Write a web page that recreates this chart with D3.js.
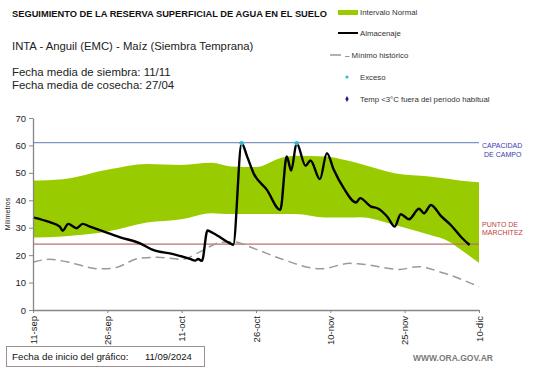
<!DOCTYPE html>
<html>
<head>
<meta charset="utf-8">
<script src="https://cdn.jsdelivr.net/npm/d3@7"></script>
<style>
  body { margin: 0; background: #fff; }
  svg { display: block; font-family: Arial, "Liberation Sans", sans-serif; }
</style>
</head>
<body>
<svg id="chart" width="541" height="368"></svg>
<script>
// x values are days since 11-sep-2024
const xTickDays = [0, 15, 30, 45, 60, 75, 90];
const xTickLabels = ["11-sep", "26-sep", "11-oct", "26-oct", "10-nov", "25-nov", "10-dic"];
const yTicks = [0, 10, 20, 30, 40, 50, 60, 70];

// Intervalo normal (banda verde)
const bandDays = [0, 6, 15, 23, 30, 36, 40, 45, 50, 53, 59, 63, 66, 73, 80, 84, 86, 90];
const bandUpper = [47.2, 47.7, 51.1, 53.2, 52.9, 53.7, 52.3, 52.1, 55.4, 56.2, 56, 54.7, 53.3, 49.9, 48.7, 47.8, 47.2, 46.6];
const bandLower = [26.4, 26.8, 28.6, 31.9, 33.1, 35.3, 35, 35, 35, 35, 33.7, 33.7, 33.8, 31, 27.4, 24.9, 22.4, 17.2];

// Minimo historico
const minDays = [0, 3.4, 6.8, 13.5, 16.1, 21.6, 25, 30.1, 33.8, 37.8, 40.4, 44.5, 50, 58, 64, 66, 74, 77.6, 83, 90];
const minValues = [17.4, 18.5, 17.6, 15, 15.2, 18.9, 19.2, 18.5, 21.3, 24.6, 24.9, 22.5, 18.7, 15, 17, 16.8, 14.8, 15.8, 13.4, 8.5];

// Almacenaje
const storageDays = [0, 3.4, 5.4, 6, 7.1, 8.8, 10, 11.5, 14.9, 17.6, 21.6, 24.2, 28.3, 31.7, 32.7, 33.3, 34.1, 35.2, 36.4, 39.8, 40.4,
  42.1, 43.2, 44.5, 47.2, 49.9, 51.2, 52.1, 53.2, 55, 56, 57.9, 59.3, 60.7, 62.7, 65.2, 66, 68.2, 69.5, 71.5, 73, 74.2, 75.9, 77.9,
  78.9, 80.3, 82.3, 84.3, 86.3, 88.1];
const storageValues = [33.8, 32, 30.4, 28.9, 31.4, 29.8, 31.4, 30.4, 28.2, 26.5, 24.3, 21.9, 20.4, 18.6, 18, 18.6, 17.9, 29, 28, 24.3, 23.8,
  60.8, 56, 49.9, 43.8, 36.5, 56, 50.8, 60.8, 52.6, 54.5, 47.7, 57.2, 51.1, 44.4, 39.2, 40.8, 37.7, 37.1, 34, 30.4, 34.9, 33.1, 36.9,
  35.3, 38.3, 34.3, 31, 26.8, 23.7];

// Exceso
const excesoDays = [42.1, 53.2];
const excesoValues = [60.8, 60.8];

const capacidadCampo = 61;
const puntoMarchitez = 24;

var svg = d3.select("#chart");

var margin = { top: 118, right: 62, bottom: 58, left: 33 };
var width = 541 - margin.left - margin.right;
var height = 368 - margin.top - margin.bottom;

var x = d3.scaleLinear().domain([0, 90]).range([0, width]);
var y = d3.scaleLinear().domain([0, 70]).range([height, 0]);

var g = svg.append("g").attr("transform", "translate(" + margin.left + "," + margin.top + ")");

// band
var band = d3.area()
  .x(function (d, i) { return x(bandDays[i]); })
  .y0(function (d, i) { return y(bandLower[i]); })
  .y1(function (d, i) { return y(bandUpper[i]); })
  .curve(d3.curveMonotoneX);
g.append("path").datum(bandDays).attr("fill", "#99cc00").attr("d", band);

// reference lines
g.append("line")
  .attr("x1", 0).attr("x2", x(90))
  .attr("y1", y(capacidadCampo)).attr("y2", y(capacidadCampo))
  .attr("stroke", "#7b96c4").attr("stroke-width", 1.2);
g.append("line")
  .attr("x1", 0).attr("x2", x(90))
  .attr("y1", y(puntoMarchitez)).attr("y2", y(puntoMarchitez))
  .attr("stroke", "#b9706c").attr("stroke-width", 1.2);

// minimo historico
g.append("path")
  .datum(minValues)
  .attr("fill", "none")
  .attr("stroke", "#9a9a9a")
  .attr("stroke-width", 1.5)
  .attr("stroke-dasharray", "9,5")
  .attr("d", d3.line()
    .x(function (d, i) { return x(minDays[i]); })
    .y(function (d) { return y(d); })
    .curve(d3.curveMonotoneX));

// almacenaje
g.append("path")
  .datum(storageValues)
  .attr("fill", "none")
  .attr("stroke", "#000")
  .attr("stroke-width", 2.4)
  .attr("stroke-linejoin", "round")
  .attr("d", d3.line()
    .x(function (d, i) { return x(storageDays[i]); })
    .y(function (d) { return y(d); })
    .curve(d3.curveMonotoneX));

// exceso
g.selectAll(".exceso")
  .data(excesoValues)
  .enter().append("circle")
  .attr("class", "exceso")
  .attr("cx", function (d, i) { return x(excesoDays[i]); })
  .attr("cy", function (d) { return y(d); })
  .attr("r", 2.2)
  .attr("fill", "#33bbcc");

// axes
var yAxis = g.append("g").call(d3.axisLeft(y).tickValues(yTicks).tickSize(4).tickSizeOuter(0));
var xAxis = g.append("g")
  .attr("transform", "translate(0," + height + ")")
  .call(d3.axisBottom(x).tickValues(xTickDays).tickSize(3).tickSizeOuter(0)
    .tickFormat(function (d, i) { return xTickLabels[i]; }));

[xAxis, yAxis].forEach(function (ax) {
  ax.select(".domain").attr("stroke", "#868686").attr("stroke-width", 1.3);
  ax.selectAll(".tick line").attr("stroke", "#868686");
  ax.selectAll("text").attr("fill", "#222").style("font-size", "9.5px").style("font-family", "Arial, 'Liberation Sans', sans-serif");
});
yAxis.selectAll("text").attr("x", -7);
xAxis.selectAll("text")
  .attr("transform", "rotate(-90)")
  .attr("x", -6).attr("y", 0).attr("dy", "0.35em")
  .style("text-anchor", "end");

g.append("text")
  .attr("transform", "rotate(-90)")
  .attr("x", -y(35)).attr("y", -23)
  .style("text-anchor", "middle")
  .style("font-size", "7px")
  .attr("fill", "#222")
  .text("Milímetros");

// labels on the right
var rx = x(90) + 3;
var cap = g.append("text").attr("fill", "#3b3bb0").style("font-size", "7px");
cap.append("tspan").attr("x", rx).attr("y", y(capacidadCampo) + 5).text("CAPACIDAD");
cap.append("tspan").attr("x", rx + 2).attr("y", y(capacidadCampo) + 14).text("DE  CAMPO");
var mar = g.append("text").attr("fill", "#c0403c").style("font-size", "7px");
mar.append("tspan").attr("x", rx).attr("y", y(puntoMarchitez) - 17).text("PUNTO  DE");
mar.append("tspan").attr("x", rx).attr("y", y(puntoMarchitez) - 9).text("MARCHITEZ");

// titles
svg.append("text").attr("x", 12).attr("y", 17)
  .style("font-size", "9.3px").style("font-weight", "bold").attr("fill", "#111")
  .text("SEGUIMIENTO DE LA RESERVA SUPERFICIAL DE AGUA EN EL SUELO");
svg.append("text").attr("x", 12).attr("y", 50)
  .style("font-size", "11.3px").attr("fill", "#222")
  .text("INTA - Anguil (EMC) - Maíz (Siembra Temprana)");
svg.append("text").attr("x", 12).attr("y", 76)
  .style("font-size", "11.4px").attr("fill", "#222")
  .text("Fecha media de siembra: 11/11");
svg.append("text").attr("x", 12).attr("y", 89)
  .style("font-size", "11.4px").attr("fill", "#222")
  .text("Fecha media de cosecha: 27/04");

// legend
var lg = svg.append("g").style("font-size", "7.8px").attr("fill", "#333");
lg.append("rect").attr("x", 338).attr("y", 10).attr("width", 20).attr("height", 5).attr("fill", "#99cc00");
lg.append("text").attr("x", 360).attr("y", 15).text("Intervalo Normal");
lg.append("line").attr("x1", 338).attr("x2", 358).attr("y1", 33).attr("y2", 33).attr("stroke", "#000").attr("stroke-width", 2);
lg.append("text").attr("x", 360).attr("y", 36).text("Almacenaje");
lg.append("line").attr("x1", 330).attr("x2", 341).attr("y1", 55).attr("y2", 55).attr("stroke", "#999").attr("stroke-width", 1.5);
lg.append("text").attr("x", 345).attr("y", 58).text("– Mínimo histórico");
lg.append("circle").attr("cx", 347).attr("cy", 77).attr("r", 1.6).attr("fill", "#33bbcc");
lg.append("text").attr("x", 360).attr("y", 80).text("Exceso");
lg.append("path").attr("d", d3.symbol().type(d3.symbolDiamond).size(10)).attr("transform", "translate(347,99)").attr("fill", "#1a1a8c");
lg.append("text").attr("x", 360).attr("y", 102).text("Temp <3°C fuera del período habitual");

// footer
svg.append("rect").attr("x", 6.5).attr("y", 346.5).attr("width", 198).attr("height", 20)
  .attr("fill", "#fff").attr("stroke", "#9e8f8f");
svg.append("text").attr("x", 12).attr("y", 360).style("font-size", "9.8px").attr("fill", "#111")
  .text("Fecha de inicio del gráfico:");
svg.append("text").attr("x", 145).attr("y", 360).style("font-size", "9.5px").attr("fill", "#111")
  .text("11/09/2024");
svg.append("text").attr("x", 413).attr("y", 361).style("font-size", "8.5px").style("font-weight", "bold")
  .attr("fill", "#7a7a7a").text("WWW.ORA.GOV.AR");
</script>
</body>
</html>
